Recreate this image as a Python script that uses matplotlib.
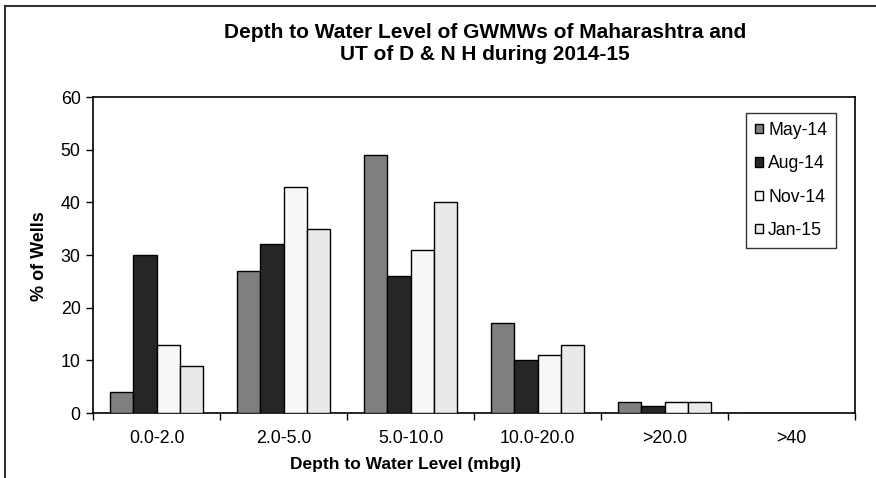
import matplotlib
matplotlib.use("Agg")
import matplotlib.pyplot as plt
import numpy as np
from matplotlib.lines import Line2D

plt.rcParams['font.family'] = ['Liberation Sans', 'DejaVu Sans']

categories = ["0.0-2.0", "2.0-5.0", "5.0-10.0", "10.0-20.0", ">20.0", ">40"]
series_names = ["May-14", "Aug-14", "Nov-14", "Jan-15"]
may14 = [4, 27, 49, 17, 2, 0]
aug14 = [30, 32, 26, 10, 1.3, 0]
nov14 = [13, 43, 31, 11, 2, 0]
jan15 = [9, 35, 40, 13, 2, 0]
yticks = [0, 10, 20, 30, 40, 50, 60]

series = [may14, aug14, nov14, jan15]
colors = ["#7f7f7f", "#262626", "#f7f7f7", "#e9e9e9"]

W, H = 876, 478
fig = plt.figure(figsize=(W / 100, H / 100), dpi=100)
ax = fig.add_axes([93 / W, 1 - 413 / H, (855 - 93) / W, (413 - 97) / H])

x = np.arange(len(categories))
bw = 0.183
for i, (vals, name, c) in enumerate(zip(series, series_names, colors)):
    ax.bar(x + (i - 1.5) * bw, vals, width=bw, color=c, edgecolor="black",
           linewidth=1.0, label=name, zorder=3)

ax.set_xlim(-0.5, len(categories) - 0.5)
ax.set_ylim(0, 60)
ax.set_yticks(yticks)
ax.set_yticklabels([str(v) for v in yticks], fontsize=12.8)
ax.set_xticks(x)
ax.set_xticklabels(categories, fontsize=12.8)
ax.tick_params(axis='x', which='major', length=0, pad=12)
ax.set_xticks(np.arange(-0.5, len(categories) + 0.5, 1), minor=True)
ax.tick_params(axis='x', which='minor', length=5, width=1, direction='out')
ax.tick_params(axis='y', length=5, width=1, direction='out', pad=4)
for s in ax.spines.values():
    s.set_linewidth(1.2)
    s.set_color("black")

leg = ax.legend(loc='upper right', bbox_to_anchor=((836 - 93) / 762, (413 - 113) / 316),
                fontsize=12.7, frameon=True, fancybox=False, edgecolor='black',
                handlelength=0.45, handleheight=0.45, handletextpad=0.28,
                labelspacing=0.93, borderpad=0.5, borderaxespad=0)
leg.get_frame().set_linewidth(1.0)

fig.text(485 / W, 1 - 44 / H, "Depth to Water Level of GWMWs of Maharashtra and\nUT of D & N H during 2014-15",
         ha='center', va='center', fontsize=15, fontweight='bold', linespacing=1.2)
fig.text(405 / W, 1 - 465 / H, "Depth to Water Level (mbgl)", ha='center', va='center',
         fontsize=12.5, fontweight='bold')
fig.text(40 / W, 1 - 256 / H, "% of Wells", ha='center', va='center', rotation=90,
         fontsize=13, fontweight='bold')

# outer frame of the picture
fig.add_artist(Line2D([5 / W, 1.0], [1 - 6 / H, 1 - 6 / H], color='#333333', lw=1.5,
                      transform=fig.transFigure))
fig.add_artist(Line2D([5 / W, 5 / W], [0, 1 - 6 / H], color='#333333', lw=1.5,
                      transform=fig.transFigure))

fig.savefig("out.png", dpi=100)
